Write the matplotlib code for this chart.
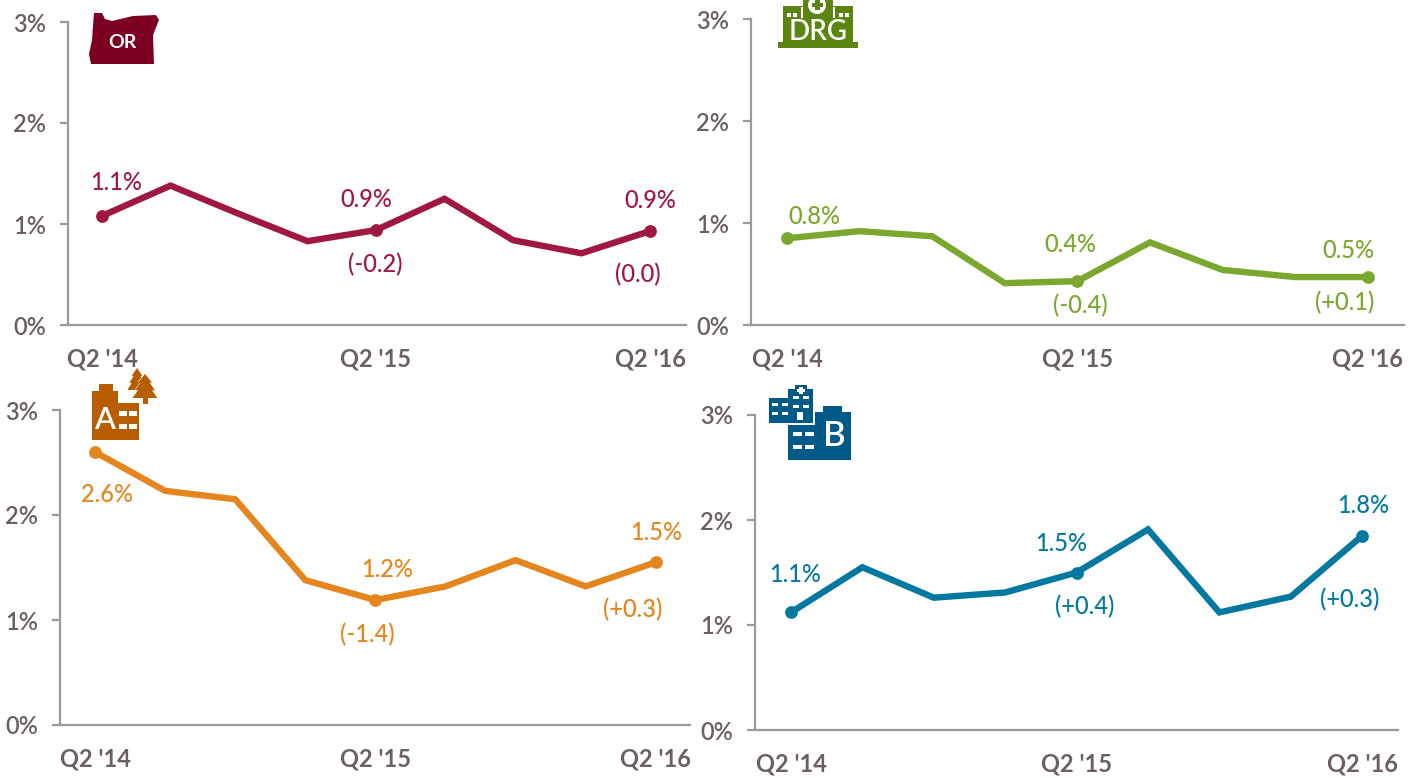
import matplotlib
matplotlib.use("Agg")
import matplotlib.pyplot as plt
from matplotlib.patches import Rectangle, Polygon, Circle

plt.rcParams["font.family"] = ["Lato", "DejaVu Sans"]

W, H = 1418, 778
quarters = ["Q2 '14", "", "", "", "Q2 '15", "", "", "", "Q2 '16"]
y_ticks = [0, 1, 2, 3]
y_labels = ["0%", "1%", "2%", "3%"]

# values, percent
oregon = [1.08, 1.38, 1.10, 0.83, 0.94, 1.25, 0.84, 0.71, 0.93]
drg = [0.85, 0.92, 0.87, 0.41, 0.43, 0.81, 0.54, 0.47, 0.47]
type_a = [2.60, 2.23, 2.15, 1.38, 1.19, 1.32, 1.57, 1.32, 1.55]
type_b = [1.12, 1.55, 1.26, 1.31, 1.50, 1.91, 1.12, 1.27, 1.85]

oregon_labels = ["1.1%", "0.9%", "(-0.2)", "0.9%", "(0.0)"]
drg_labels = ["0.8%", "0.4%", "(-0.4)", "0.5%", "(+0.1)"]
type_a_labels = ["2.6%", "1.2%", "(-1.4)", "1.5%", "(+0.3)"]
type_b_labels = ["1.1%", "1.5%", "(+0.4)", "1.8%", "(+0.3)"]
label_points = [0, 4, 4, 8, 8]

grey = "#9f9999"
text_grey = "#6b5f5f"
fs = 17


def panel(values, labels, color, left, right, top, bottom, x0, step, offsets):
    ax = fig.add_axes([left / W, 1 - bottom / H, (right - left) / W, (bottom - top) / H])
    ax.patch.set_alpha(0)
    ax.set_xlim((left - x0) / step, (right - x0) / step)
    ax.set_ylim(0, 3)
    ax.plot(range(len(values)), values, color=color, lw=4.6, solid_joinstyle="miter", clip_on=False)
    ax.plot([0, 4, 8], [values[0], values[4], values[8]], "o", color=color, ms=9.2, mew=0, clip_on=False)
    for s in ["top", "right"]:
        ax.spines[s].set_visible(False)
    for s in ["left", "bottom"]:
        ax.spines[s].set_color(grey)
        ax.spines[s].set_linewidth(1.6)
    ax.set_yticks(y_ticks)
    ax.set_yticklabels(y_labels, fontweight="semibold")
    ax.set_xticks(range(len(quarters)))
    ax.set_xticklabels(quarters, fontweight="bold")
    ax.tick_params(axis="y", length=6, width=1.6, color=grey, labelcolor=text_grey, labelsize=fs, pad=10)
    ax.tick_params(axis="x", length=0, labelcolor=text_grey, labelsize=fs, pad=16)
    for lab, i, off in zip(labels, label_points, offsets):
        ax.annotate(lab, (i, values[i]), xytext=(off[0] * 0.72, off[1] * 0.72), textcoords="offset points",
                    ha="center", va="center", color=color, fontsize=fs, fontweight="medium")
    return ax


fig = plt.figure(figsize=(W / 100, H / 100), dpi=100)
fig.patch.set_facecolor("white")

panel(oregon, oregon_labels, "#a0173f", 68, 686, 22, 325, 102, 68.5,
      [(14, 33), (-10, 31), (-1, -34), (0, 31), (-12, -43)])
panel(drg, drg_labels, "#7aa82e", 751, 1404, 19, 325, 787, 72.6,
      [(27, 22), (-7, 37), (3, -24), (-19, 27), (-23, -25)])
panel(type_a, type_a_labels, "#e5851e", 60, 690, 410, 725, 95, 70.1,
      [(12, -42), (12, 31), (-8, -35), (0, 30), (-23, -47)])
panel(type_b, type_b_labels, "#00789f", 755, 1398, 415, 730, 791, 71.4,
      [(4, 38), (-15, 29), (8, -34), (1, 30), (-13, -64)])

# icons, drawn on an overlay in pixel coordinates
ov = fig.add_axes([0, 0, 1, 1])
ov.set_xlim(0, W)
ov.set_ylim(H, 0)
ov.axis("off")
ov.patch.set_alpha(0)


def box(x0, y0, x1, y1, c):
    ov.add_patch(Rectangle((x0, y0), x1 - x0, y1 - y0, fc=c, ec="none"))


def poly(pts, c):
    ov.add_patch(Polygon(pts, closed=True, fc=c, ec="none"))


def tree(cx, top, w, h, c):
    poly([(cx, top), (cx + w * 0.28, top + h * 0.36), (cx + w * 0.18, top + h * 0.36),
          (cx + w * 0.4, top + h * 0.68), (cx + w * 0.28, top + h * 0.68), (cx + w * 0.5, top + h),
          (cx - w * 0.5, top + h), (cx - w * 0.28, top + h * 0.68), (cx - w * 0.4, top + h * 0.68),
          (cx - w * 0.18, top + h * 0.36), (cx - w * 0.28, top + h * 0.36)], c)


# Oregon
c = "#7d0022"
poly([(94, 13), (102, 13), (105, 19), (112, 21), (133, 16), (156, 15), (159, 20), (153, 35),
      (154, 64), (91, 64), (89, 54), (92, 40)], c)
ov.text(122, 42, "OR", color="white", fontsize=14, ha="center", va="center", fontweight="bold")

# DRG hospital
c = "#5b8510"
box(778, 42, 858, 48, c)
box(783, 6, 853, 43, c)
box(803, 0, 833, 18, c)
box(801, 7, 803, 18, "white")
box(833, 7, 835, 18, "white")
ov.add_patch(Circle((817, 5), 9, fc="white", ec="none"))
box(815, 0, 820, 10, c)
box(812, 3, 823, 7, c)
for x in [787, 793, 839, 845]:
    box(x, 13, x + 4, 17, "white")
ov.text(818, 32, "DRG", color="white", fontsize=20, ha="center", va="center", fontweight="semibold")

# type A hospital with trees
c = "#b85c00"
box(92, 391, 118, 440, c)
box(99, 384, 113, 392, c)
box(118, 403, 139, 440, c)
for x in [119, 129]:
    for y in [411, 424]:
        box(x, y, x + 8, y + 5, "white")
ov.text(105, 420, "A", color="white", fontsize=22, ha="center", va="center", fontweight="semibold")
tree(137, 368, 19, 22, c)
tree(145, 373, 26, 25, "white")
tree(145, 374, 25, 24, c)
box(143, 397, 148, 404, c)

# type B hospital
c = "#005a87"
box(769, 398, 788, 423, c)
box(788, 389, 813, 423, c)
box(795, 385, 807, 390, c)
box(799, 387, 803, 394, "white")
box(797, 389, 805, 392, "white")
for x in [772, 782]:
    for y in [403, 412]:
        box(x, y, x + 6, y + 3, "white")
for x in [793, 803]:
    for y in [396, 405]:
        box(x, y, x + 6, y + 2.5, "white")
box(797, 412, 803, 420, "white")
box(788, 425, 851, 460, c)
box(815, 412, 851, 426, c)
box(823, 406, 842, 413, c)
for x in [793, 805]:
    for y in [432, 445]:
        box(x, y, x + 9, y + 4, "white")
ov.text(834, 436, "B", color="white", fontsize=25, ha="center", va="center", fontweight="semibold")

fig.savefig("out.png", dpi=100)
plt.close()
